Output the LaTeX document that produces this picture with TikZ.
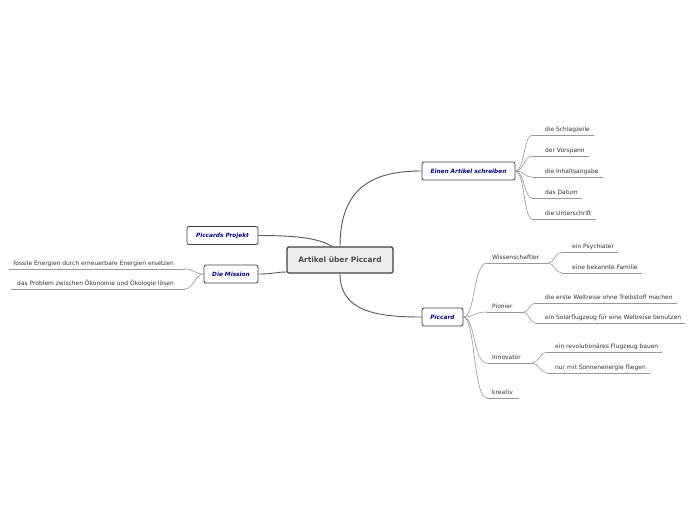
\documentclass[tikz,border=0pt]{standalone}
\usepackage{fontspec}
\setmainfont{DejaVu Sans}
\begin{document}
\begin{tikzpicture}[x=1pt,y=-1pt,
  mainline/.style={draw=black!65, line width=0.9pt},
  thin/.style={draw=black!40, line width=0.6pt},
  uline/.style={draw=black!40, line width=0.6pt},
  main/.style={draw=black!75, line width=1.2pt, fill=black!7, rounded corners=2pt,
    font=\fontsize{7.45}{8}\selectfont\bfseries, text=black!70, minimum width=106pt,
    minimum height=26pt, inner sep=0pt},
  topic/.style={draw=black!75, line width=0.8pt, fill=white, rounded corners=2pt,
    font=\fontsize{5.8}{6}\selectfont\bfseries\itshape, text=blue!55!black,
    minimum height=18pt, inner sep=0pt},
  leaf/.style 2 args={font=\fontsize{5.95}{6}\selectfont, text=black!80, inner xsep=0pt,
    inner ysep=2pt, text depth=1.5pt, anchor=south west,
    execute at begin node={\hspace*{#1}}, execute at end node={\hspace*{#2}},
    append after command={(\tikzlastnode.south west) edge[uline] (\tikzlastnode.south east)}},
  leafl/.style 2 args={font=\fontsize{5.95}{6}\selectfont, text=black!80, inner xsep=0pt,
    inner ysep=2pt, text depth=1.5pt, anchor=south east,
    execute at begin node={\hspace*{#1}}, execute at end node={\hspace*{#2}},
    append after command={(\tikzlastnode.south west) edge[uline] (\tikzlastnode.south east)}}
]
\fill[white] (0,0) rectangle (696,520);
\useasboundingbox (0,0) rectangle (696,520);

\node[main] (c) at (340,260) {Artikel über Piccard};
\node[topic, minimum width=93pt] (ea) at (468.5,171) {Einen Artikel schreiben};
\node[topic, minimum width=41pt] (pc) at (442.5,317) {Piccard};
\node[topic, minimum width=71pt] (pp) at (222.5,235.5) {Piccards Projekt};
\node[topic, minimum width=54pt] (dm) at (231,274) {Die Mission};

% leaves of Einen Artikel schreiben
\node[leaf={13pt}{4pt}] (e1) at (532,135) {die Schlagzeile};
\node[leaf={13pt}{4pt}] (e2) at (532,156) {der Vorspann};
\node[leaf={13pt}{4pt}] (e3) at (532,177) {die Inhaltsangabe};
\node[leaf={13pt}{4pt}] (e4) at (532,198) {das Datum};
\node[leaf={13pt}{4pt}] (e5) at (532,219) {die Unterschrift};

% Piccard hubs
\node[leaf={5pt}{9pt}] (w) at (487,263) {Wissenschaftler};
\node[leaf={5pt}{11pt}] (pi) at (487,312) {Pionier};
\node[leaf={5pt}{11pt}] (in) at (487,363) {Innovator};
\node[leaf={5pt}{6pt}] (kr) at (487,398) {kreativ};

\node[leaf={10pt}{4pt}] (w1) at (562,252) {ein Psychiater};
\node[leaf={10pt}{4pt}] (w2) at (562,273) {eine bekannte Familie};
\node[leaf={10pt}{4pt}] (p1) at (535,303) {die erste Weltreise ohne Treibstoff machen};
\node[leaf={10pt}{4pt}] (p2) at (535,323) {ein Solarflugzeug für eine Weltreise benutzen};
\node[leaf={8pt}{4pt}] (i1) at (547,352) {ein revolutionäres Flugzeug bauen};
\node[leaf={8pt}{4pt}] (i2) at (547,373) {nur mit Sonnenenergie fliegen};

% Die Mission leaves
\node[leafl={4pt}{11pt}] (d1) at (185,269) {fossile Energien durch erneuerbare Energien ersetzen};
\node[leafl={6pt}{11pt}] (d2) at (185,289) {das Problem zwischen Ökonomie und Ökologie lösen};

% connectors
\draw[mainline] (c.north) .. controls +(0,-62) and +(-45,0) .. (ea.west);
\draw[mainline] (c.south) .. controls +(0,38) and +(-45,0) .. (pc.west);
\draw[mainline] (pp.east) .. controls +(45,0) and +(-12,-7) .. ([xshift=-8pt]c.north);
\draw[mainline] (dm.east) .. controls +(15,0) and +(-10,0) .. ([yshift=-12pt]c.west);

\foreach \l in {e1,e2,e3,e4,e5}
  \draw[thin] (ea.east) .. controls +(9,0) and +(-8,0) .. (\l.south west);
\foreach \l in {w,pi,in,kr}
  \draw[thin] (pc.east) .. controls +(12,0) and +(-14,0) .. (\l.south west);
\foreach \l in {w1,w2}
  \draw[thin] (w.south east) .. controls +(6,0) and +(-7,0) .. (\l.south west);
\foreach \l in {p1,p2}
  \draw[thin] (pi.south east) .. controls +(5,0) and +(-5,0) .. (\l.south west);
\foreach \l in {i1,i2}
  \draw[thin] (in.south east) .. controls +(7,0) and +(-7,0) .. (\l.south west);
\foreach \l in {d1,d2}
  \draw[thin] (dm.west) .. controls +(-8,0) and +(8,0) .. (\l.south east);
\end{tikzpicture}
\end{document}
